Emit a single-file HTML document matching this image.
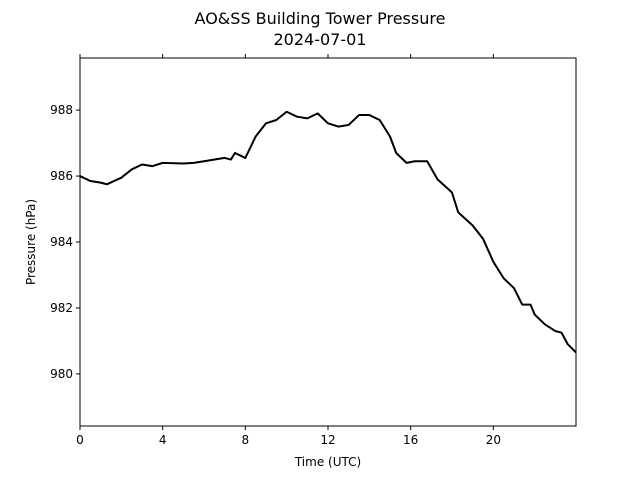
<!DOCTYPE html>
<html><head><meta charset="utf-8"><style>
body{margin:0;background:#fff;}
svg text{font-family:"DejaVu Sans","Liberation Sans",sans-serif;}
</style></head><body>
<svg id="chart" width="640" height="480">
<text x="320" y="24" text-anchor="middle" font-size="16">AO&amp;SS Building Tower Pressure</text>
<text x="320" y="45" text-anchor="middle" font-size="16">2024-07-01</text>
<g id="axes"></g>
<text x="328" y="466" text-anchor="middle" font-size="12">Time (UTC)</text>
<text transform="translate(35,242) rotate(-90)" text-anchor="middle" font-size="12">Pressure (hPa)</text>
</svg>
<script>
const hours=[0,0.5,1,1.3,2,2.5,3,3.5,4,5,5.5,6,7,7.3,7.5,8,8.5,9,9.5,10,10.5,11,11.5,12,12.5,13,13.5,14,14.5,15,15.3,15.8,16.2,16.8,17.3,18,18.3,19,19.5,20,20.5,21,21.4,21.8,22,22.5,23,23.3,23.6,24];
const pressure=[986.0,985.85,985.8,985.75,985.95,986.2,986.35,986.3,986.4,986.38,986.4,986.45,986.55,986.5,986.7,986.55,987.2,987.6,987.7,987.95,987.8,987.75,987.9,987.6,987.5,987.55,987.85,987.85,987.7,987.2,986.7,986.4,986.45,986.45,985.9,985.5,984.9,984.5,984.1,983.4,982.9,982.6,982.1,982.1,981.8,981.5,981.3,981.25,980.9,980.65];
const xTicks=[0,4,8,12,16,20];
const yTicks=[980,982,984,986,988];
const L=80,R=576,T=58,B=426;
const xMin=0,xMax=24,yMin=978.42,yMax=989.58;
const xs=v=>L+(v-xMin)/(xMax-xMin)*(R-L);
const ys=v=>B-(v-yMin)/(yMax-yMin)*(B-T);
const NS="http://www.w3.org/2000/svg";
const g=document.getElementById('axes');
function mk(t,a){const e=document.createElementNS(NS,t);for(const k in a)e.setAttribute(k,a[k]);g.appendChild(e);return e;}
const pl=mk('polyline',{points:hours.map((h,i)=>xs(h)+','+ys(pressure[i])).join(' '),fill:'none',stroke:'#000','stroke-width':2,'stroke-linejoin':'round'});


const fr=mk('rect',{x:L,y:T,width:R-L,height:B-T,fill:'none',stroke:'#000','stroke-width':1});


xTicks.forEach(v=>{const x=xs(v);
mk('line',{x1:x,x2:x,y1:B,y2:B+4,stroke:'#000'});
mk('line',{x1:x,x2:x,y1:T,y2:T-4,stroke:'#000'});
const t=mk('text',{x:x,y:B+18,'text-anchor':'middle','font-size':12});t.textContent=v;

});
yTicks.forEach(v=>{const y=ys(v);
mk('line',{x1:L-4,x2:L,y1:y,y2:y,stroke:'#000'});
const t=mk('text',{x:L-7,y:y+4,'text-anchor':'end','font-size':12});t.textContent=v;

});
</script>
</body></html>
